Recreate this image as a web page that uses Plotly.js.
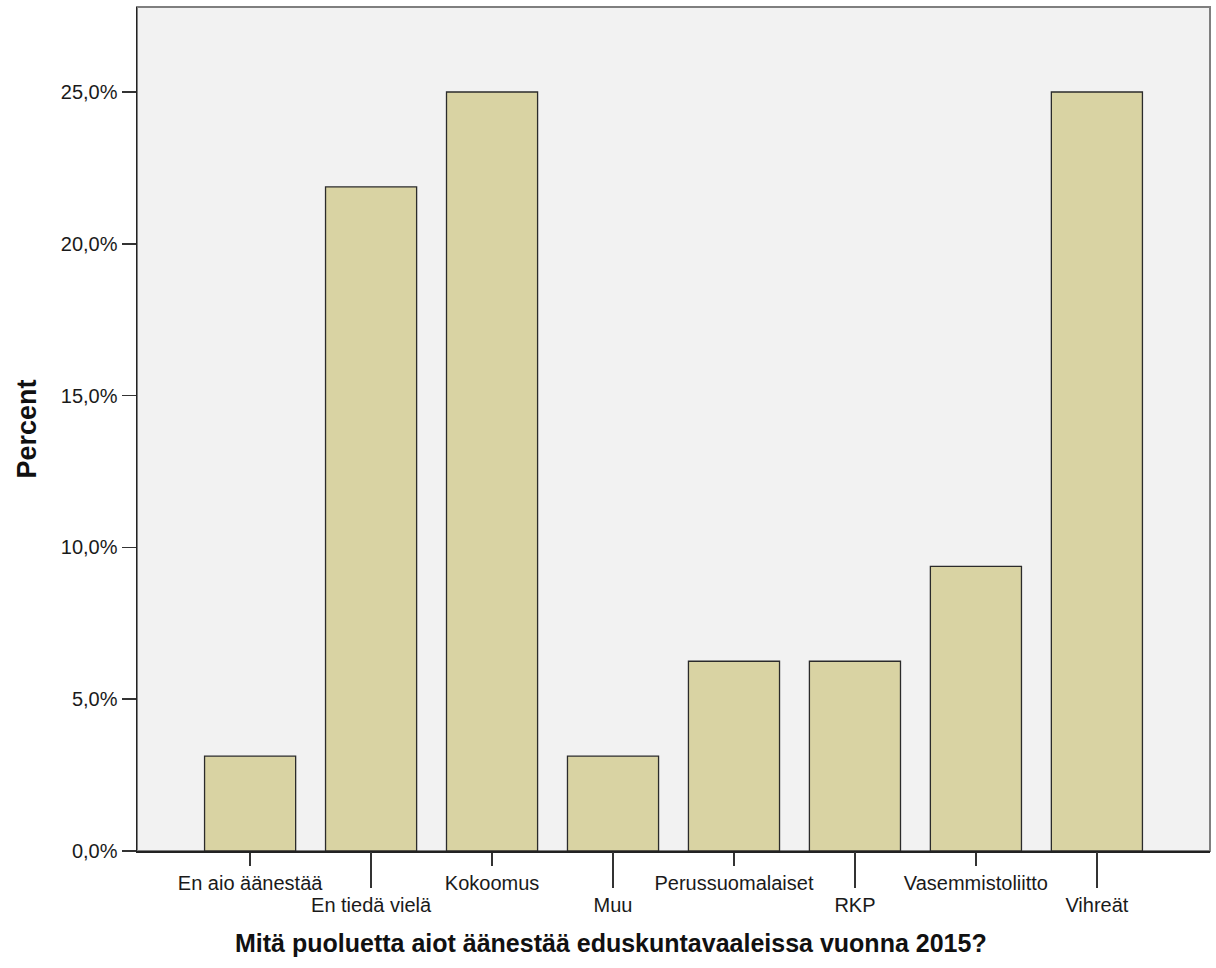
<!DOCTYPE html>
<html>
<head>
<meta charset="utf-8">
<script src="https://cdn.plot.ly/plotly-3.0.1.min.js"></script>
<style>html,body{margin:0;padding:0;background:#fff;}#chart{width:1216px;height:968px;}</style>
</head>
<body>
<div id="chart"></div>
<script>
const categories = ["En aio äänestää", "En tiedä vielä", "Kokoomus", "Muu", "Perussuomalaiset", "RKP", "Vasemmistoliitto", "Vihreät"];
const percents = [3.125, 21.875, 25.0, 3.125, 6.25, 6.25, 9.375, 25.0];
const yTickVals = [0, 5, 10, 15, 20, 25];
const yTickText = ["0,0%", "5,0%", "10,0%", "15,0%", "20,0%", "25,0%"];
const xTitle = "Mitä puoluetta aiot äänestää eduskuntavaaleissa vuonna 2015?";
const yTitle = "Percent";

const upperRow = categories.filter((c, i) => i % 2 === 0);
const lowerRow = categories.filter((c, i) => i % 2 === 1);

const FONT = "Liberation Sans, Arial, sans-serif";
const xRange = [-0.935, categories.length - 1 + 0.935];

const traces = [
  {
    type: "bar",
    x: categories,
    y: percents,
    width: 0.753,
    marker: {color: "#d9d3a3", line: {color: "#2b2b2b", width: 1.3}},
    hoverinfo: "x+y",
    showlegend: false
  },
  {
    type: "bar",
    x: categories,
    y: percents,
    xaxis: "x2",
    width: 0.753,
    marker: {color: "rgba(0,0,0,0)", line: {width: 0}},
    hoverinfo: "skip",
    showlegend: false
  }
];

const layout = {
  width: 1216,
  height: 968,
  margin: {l: 137, r: 6, t: 7, b: 117},
  paper_bgcolor: "#ffffff",
  plot_bgcolor: "#f2f2f2",
  font: {family: FONT, color: "#1a1a1a"},
  barmode: "overlay",
  xaxis: {
    type: "category",
    range: xRange,
    tickvals: upperRow,
    ticktext: upperRow,
    ticks: "outside",
    ticklen: 13,
    tickwidth: 1.5,
    tickcolor: "#333",
    tickfont: {family: FONT, size: 20, color: "#1a1a1a"},
    showline: true,
    linecolor: "#222",
    linewidth: 1.5,
    showgrid: false,
    zeroline: false
  },
  xaxis2: {
    type: "category",
    overlaying: "x",
    side: "bottom",
    range: xRange,
    tickvals: lowerRow,
    ticktext: lowerRow,
    ticks: "outside",
    ticklen: 36,
    tickwidth: 1.5,
    tickcolor: "#333",
    tickfont: {family: FONT, size: 20, color: "#1a1a1a"},
    showline: false,
    showgrid: false,
    zeroline: false
  },
  yaxis: {
    range: [0, 27.8],
    tickvals: yTickVals,
    ticktext: yTickText,
    ticks: "outside",
    ticklen: 14,
    tickwidth: 1.5,
    tickcolor: "#333",
    tickfont: {family: FONT, size: 20, color: "#1a1a1a"},
    showline: true,
    linecolor: "#222",
    linewidth: 1.5,
    showgrid: false,
    zeroline: false,
    title: {text: yTitle, font: {family: FONT, size: 27, weight: "bold", color: "#111"}, standoff: 16}
  },
  annotations: [
    {text: xTitle, xref: "paper", yref: "paper", x: 0.4418, y: -0.109, xanchor: "center", yanchor: "middle",
     showarrow: false, font: {family: FONT, size: 25, weight: "bold", color: "#111"}}
  ],
  shapes: [
    {type: "rect", xref: "paper", yref: "paper", x0: 0, x1: 1, y0: 0, y1: 1, layer: "below",
     line: {color: "#7f7f7f", width: 2}, fillcolor: "rgba(0,0,0,0)"}
  ]
};

Plotly.newPlot("chart", traces, layout, {displayModeBar: false, staticPlot: true});
</script>
</body>
</html>
